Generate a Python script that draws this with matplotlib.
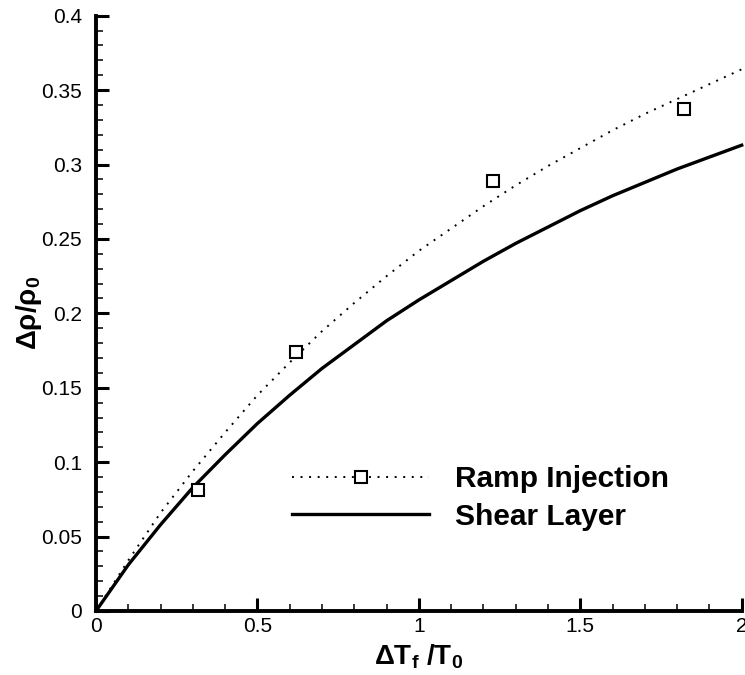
import matplotlib
matplotlib.use("Agg")
import matplotlib.pyplot as plt
from matplotlib.lines import Line2D
from matplotlib.ticker import MultipleLocator

plt.rcParams['font.family'] = ['Liberation Sans', 'DejaVu Sans']
plt.rcParams['mathtext.fontset'] = 'custom'
plt.rcParams['mathtext.rm'] = 'Liberation Sans'
plt.rcParams['mathtext.bf'] = 'Liberation Sans:bold'
plt.rcParams['mathtext.it'] = 'Liberation Sans:italic'

# Curves
x_curve = [0.0, 0.1, 0.2, 0.3, 0.4, 0.5, 0.6, 0.7, 0.8, 0.9, 1.0,
           1.1, 1.2, 1.3, 1.4, 1.5, 1.6, 1.7, 1.8, 1.9, 2.0]
ramp_curve = [0.0, 0.034, 0.066, 0.094, 0.120, 0.145, 0.167, 0.188, 0.207, 0.225, 0.242,
              0.257, 0.272, 0.286, 0.299, 0.311, 0.323, 0.334, 0.344, 0.354, 0.364]
shear_curve = [0.0, 0.031, 0.058, 0.083, 0.105, 0.126, 0.145, 0.163, 0.179, 0.195, 0.209,
               0.222, 0.235, 0.247, 0.258, 0.269, 0.279, 0.288, 0.297, 0.305, 0.313]

# Ramp injection data points
ramp_x = [0.315, 0.621, 1.229, 1.82]
ramp_y = [0.081, 0.174, 0.289, 0.337]

labels = ["Ramp Injection", "Shear Layer"]

fig = plt.figure(figsize=(7.45, 6.75), dpi=100)
ax = fig.add_axes([96/745, 1-611/675, (741.7-96)/745, (611-15.7)/675])

ax.plot(x_curve, ramp_curve, color='black', lw=1.4, linestyle=(0, (1, 3.4)), clip_on=False)
ax.plot(ramp_x, ramp_y, linestyle='none', marker='s', ms=9, mfc='white', mec='black', mew=1.5,
        clip_on=False, zorder=3)
ax.plot(x_curve, shear_curve, color='black', lw=2.4, clip_on=False)

ax.set_xlim(0, 2)
ax.set_ylim(0, 0.4)

for s in ['top', 'right']:
    ax.spines[s].set_visible(False)
for s in ['left', 'bottom']:
    ax.spines[s].set_linewidth(2.8)

ax.xaxis.set_major_locator(MultipleLocator(0.5))
ax.xaxis.set_minor_locator(MultipleLocator(0.1))
ax.yaxis.set_major_locator(MultipleLocator(0.05))
ax.yaxis.set_minor_locator(MultipleLocator(0.01))
ax.xaxis.set_major_formatter(plt.FuncFormatter(lambda v, p: ('%g' % v)))
ax.yaxis.set_major_formatter(plt.FuncFormatter(lambda v, p: ('%g' % round(v, 2))))

ax.tick_params(which='major', direction='in', length=9.5, width=2.2, labelsize=15, color='black')
ax.tick_params(which='minor', direction='in', length=5, width=1.1)
ax.tick_params(axis='y', which='major', pad=10)
ax.tick_params(axis='x', which='major', pad=4)

ax.set_xlabel('ΔT$_\\mathbf{f}$ /T$_\\mathbf{0}$', fontsize=20, fontweight='bold', labelpad=5)
ax.set_ylabel('Δρ/ρ$_\\mathbf{0}$', fontsize=20, fontweight='bold', labelpad=-2)

h1 = Line2D([], [], color='black', lw=1.4, linestyle=(0, (1, 3.4)), marker='s', ms=9,
            mfc='white', mec='black', mew=1.5)
h2 = Line2D([], [], color='black', lw=2.4)
leg = ax.legend([h1, h2], labels, loc='upper left', frameon=False,
                bbox_to_anchor=(292/745, 1-465/675), bbox_transform=fig.transFigure,
                borderpad=0, borderaxespad=0, handlelength=4.6, handletextpad=0.85,
                labelspacing=0.33, numpoints=1,
                prop={'family': 'Liberation Sans', 'weight': 'bold', 'size': 21.5})

fig.savefig('out.png', dpi=100)
